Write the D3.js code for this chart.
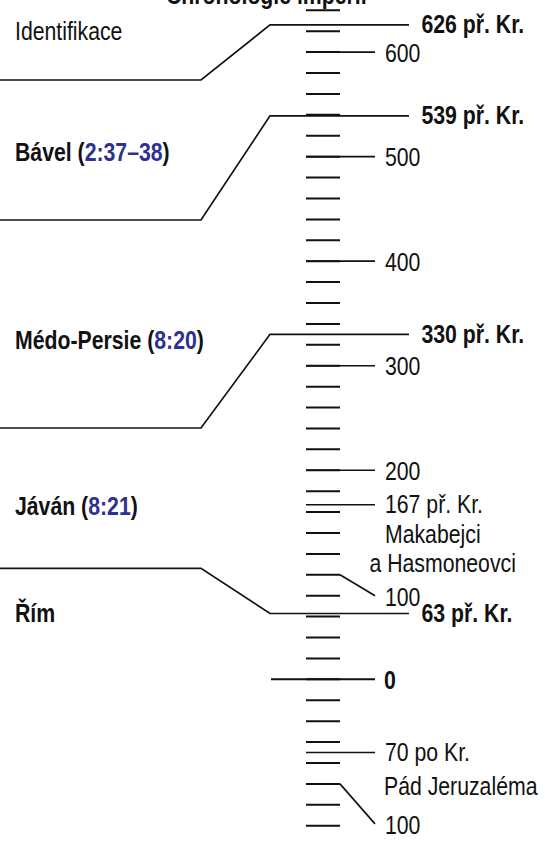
<!DOCTYPE html>
<html><head><meta charset="utf-8">
<script src="https://cdn.jsdelivr.net/npm/d3@7"></script>
<style>
html,body{margin:0;padding:0;background:#fff;}
svg{display:block;}
text{font-family:"Liberation Sans",Arial,Helvetica,sans-serif;fill:#111;}
</style></head>
<body>
<svg id="c" width="552" height="843"></svg>
<script>
// ---- data ----
const title = "Chronologie impérií";
const tickYears = d3.range(-640, 141, 20);            // minor ticks every 20 years (BC negative)
const centuryYears = [-600, -500, -400, -300, -200];   // labelled centuries
const centuryLabels = ["600", "500", "400", "300", "200"];
const zeroYear = 0, zeroLabel = "0";
const offsetYears = [-100, 100];                        // centuries labelled off to the side
const offsetLabels = ["100", "100"];
const boundaryYears = [-626, -539, -330, -63];
const boundaryLabels = ["626 př. Kr.", "539 př. Kr.", "330 př. Kr.", "63 př. Kr."];
const empireNames = ["Identifikace", "Bável", "Médo-Persie", "Jáván", "Řím"];
const empireRefs = [null, "2:37–38", "8:20", "8:21", null];
const eventYears = [-167, 70];
const eventLabels = [["167 př. Kr.", "Makabejci", "a Hasmoneovci"], ["70 po Kr.", "Pád Jeruzaléma"]];

// ---- layout ----
const svg = d3.select("#c");
const y = d3.scaleLinear().domain([-640, 140]).range([10.3, 825.7]);
const SX = 0.85, FS = 25;
const tickX0 = 306, tickX1 = 340, longX1 = 375, zeroX0 = 271;
const refColor = "#2e3192";

function label(x, yy, parts, bold, anchor) {
  const t = svg.append("text")
    .attr("transform", `translate(${x},${yy}) scale(${SX},1)`)
    .attr("font-size", FS)
    .attr("font-weight", bold ? "bold" : "normal")
    .attr("text-anchor", anchor || "start");
  parts.forEach(p => {
    t.append("tspan").text(p.t).style("fill", p.c || "#111");
  });
  return t;
}

// title (cut off at top, as in the original)
label(166, 3.5, [{t: title}], true);

// minor ticks
svg.append("g").selectAll("line").data(tickYears).join("line")
  .attr("x1", tickX0).attr("x2", tickX1)
  .attr("y1", d => y(d)).attr("y2", d => y(d))
  .attr("stroke", "#111").attr("stroke-width", 2);

// century ticks with labels
svg.append("g").selectAll("line").data(centuryYears).join("line")
  .attr("x1", tickX0).attr("x2", longX1)
  .attr("y1", d => y(d)).attr("y2", d => y(d))
  .attr("stroke", "#111").attr("stroke-width", 1.7);
centuryYears.forEach((d, i) => label(385, y(d) + 9.5, [{t: centuryLabels[i]}], false));

// zero
svg.append("line").attr("x1", zeroX0).attr("x2", longX1)
  .attr("y1", y(zeroYear)).attr("y2", y(zeroYear))
  .attr("stroke", "#111").attr("stroke-width", 2);
label(384, y(zeroYear) + 9.5, [{t: zeroLabel}], true);

// offset century labels (diagonal connector)
const offsetDrop = [21, 40];
offsetYears.forEach((d, i) => {
  svg.append("path")
    .attr("d", `M${tickX1},${y(d)} L${longX1},${y(d) + offsetDrop[i]}`)
    .attr("fill", "none").attr("stroke", "#111").attr("stroke-width", 1.6);
  label(385, y(d) + offsetDrop[i] + 10, [{t: offsetLabels[i]}], false);
});

// event lines (side column)
const eventLineH = [[29.3, 29], [33.5]];
const eventLineX = [[385, 369.5], [384]];
eventYears.forEach((d, i) => {
  svg.append("line").attr("x1", tickX0).attr("x2", longX1)
    .attr("y1", y(d)).attr("y2", y(d))
    .attr("stroke", "#111").attr("stroke-width", 1.7);
  let yy = y(d) + 8.5;
  label(385, yy, [{t: eventLabels[i][0]}], false);
  eventLabels[i].slice(1).forEach((s, j) => {
    yy += eventLineH[i][j];
    label(eventLineX[i][j], yy, [{t: s}], false);
  });
});

// empire boundaries
const leftY = [80, 220, 428, 568.3];
const bendX0 = 201, bendX1 = 270, lineEnd = 409;
boundaryYears.forEach((d, i) => {
  svg.append("path")
    .attr("d", `M0,${leftY[i]} L${bendX0},${leftY[i]} L${bendX1},${y(d)} L${lineEnd},${y(d)}`)
    .attr("fill", "none").attr("stroke", "#111").attr("stroke-width", 1.7);
  label(421.5, y(d) + 8.5, [{t: boundaryLabels[i]}], true);
});

// empire names
const nameY = [40, 161, 349, 515, 621.5];
empireNames.forEach((n, i) => {
  const parts = [{t: n}];
  if (empireRefs[i]) {
    parts[0].t = n + " (";
    parts.push({t: empireRefs[i], c: refColor});
    parts.push({t: ")"});
  }
  label(15, nameY[i], parts, i > 0);
});
</script>
</body></html>
